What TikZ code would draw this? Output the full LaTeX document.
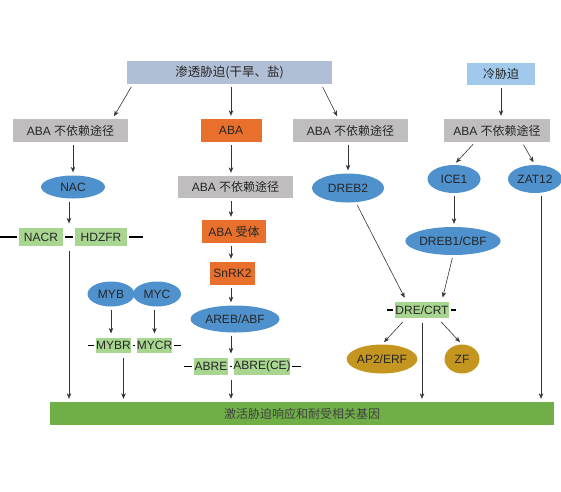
\documentclass[tikz,border=0pt]{standalone}
\usepackage{fontspec}
\setmainfont{Liberation Sans}
\newfontfamily\cjk{Noto Sans CJK SC}
\usepackage{xcolor}
\usetikzlibrary{calc,shapes.geometric,arrows.meta,backgrounds}

\definecolor{osmblue}{RGB}{177,191,214}
\definecolor{coldblue}{RGB}{160,201,235}
\definecolor{ablgray}{RGB}{191,189,189}
\definecolor{abaorange}{RGB}{232,112,44}
\definecolor{tfblue}{RGB}{78,145,205}
\definecolor{tfgold}{RGB}{196,150,32}
\definecolor{sitegreen}{RGB}{168,214,145}
\definecolor{bargreen}{RGB}{112,174,72}

\begin{document}
\begin{tikzpicture}[x=1pt,y=-1pt]
            \tikzstyle{every node}=[font=\fontsize{12}{14}\selectfont, text=black!85, inner sep=0pt]
            \tikzstyle{box}=[rectangle, minimum height=23pt]
            \tikzstyle{abl}=[box, fill=ablgray, minimum width=115pt]
            \tikzstyle{abaon}=[box, fill=abaorange]
            \tikzstyle{tf}=[ellipse, fill=tfblue]
            \tikzstyle{tfb}=[ellipse, fill=tfgold]
            \tikzstyle{site}=[rectangle, fill=sitegreen, draw=white, line width=1.2pt]
            \tikzstyle{arr}=[-{Stealth[length=5.5pt,width=4.5pt]}, draw=black!80, line width=0.6pt, shorten <=3pt, shorten >=3pt]
            \tikzstyle{dna}=[line width=1.2pt]
            \useasboundingbox (0,0) rectangle (561,491);
            % stresses
            \node[box, fill=osmblue, minimum width=205pt, font=\fontsize{12.5}{14}\selectfont] (osm) at (229.5,72.5) {\cjk 渗透胁迫(干旱、盐)};
            \node[box, fill=coldblue, minimum width=68pt, minimum height=22pt] (cold) at (501,74) {\cjk 冷胁迫};
            % pathways
            \node[abl] (abl1) at (70.5,130.5) {ABA {\cjk 不依赖途径}};
            \node[abaon, minimum width=61pt] (aba) at (231,130.5) {ABA};
            \node[abl] (abl3) at (350.5,130.5) {ABA {\cjk 不依赖途径}};
            \node[abl, minimum width=106pt] (abl4) at (497,130.5) {ABA {\cjk 不依赖途径}};
            \node[abl, minimum height=22pt] (abl2) at (235.5,187) {ABA {\cjk 不依赖途径}};
            \node[abaon, minimum width=64pt] (abarec) at (234,231.5) {ABA {\cjk 受体}};
            \node[abaon, minimum width=45pt] (snrk) at (232.5,273.5) {SnRK2};
            % transcription factors
            \node[tf, minimum width=64pt, minimum height=23pt] (nac) at (73,187) {NAC};
            \node[tf, minimum width=72pt, minimum height=29pt] (dreb2) at (348,188) {DREB2};
            \node[tf, minimum width=53pt, minimum height=28pt] (ice1) at (454,179) {ICE1};
            \node[tf, minimum width=54pt, minimum height=28pt] (zat) at (535,179) {ZAT12};
            \node[tf, minimum width=90pt, minimum height=28pt] (dreb1) at (453,241) {DREB1/CBF};
            \node[tf, minimum width=47pt, minimum height=25pt] (myb) at (111,294) {MYB};
            \node[tf, minimum width=48pt, minimum height=25pt] (myc) at (157,294) {MYC};
            \node[tf, minimum width=89pt, minimum height=27pt] (areb) at (235,319) {AREB/ABF};
            \node[tfb, minimum width=63pt, minimum height=29pt] (ap2) at (382,359) {AP2/ERF};
            \node[tfb, minimum width=35pt, minimum height=29pt] (zf) at (462,359) {ZF};
            % cis elements
            \node[site, minimum width=46pt, minimum height=20pt] (nacr) at (41,237) {NACR};
            \node[site, minimum width=54pt, minimum height=20pt] (hdzfr) at (101,237) {HDZFR};
            \node[site, minimum width=37pt, minimum height=17pt] (mybr) at (113.5,345.5) {MYBR};
            \node[site, minimum width=37pt, minimum height=17pt] (mycr) at (154.5,345.5) {MYCR};
            \node[site, minimum width=36pt, minimum height=19pt] (abre) at (211,366.5) {ABRE};
            \node[site, minimum width=58pt, minimum height=19pt] (abrece) at (262,366.5) {ABRE(CE)};
            \node[site, minimum width=56pt, minimum height=18pt] (dre) at (422,310) {DRE/CRT};
            % genes
            \node[box, fill=bargreen, minimum width=504pt, minimum height=23pt, text=black!75] (genes) at (302,413.5) {\cjk 激活胁迫响应和耐受相关基因};
            \coordinate (nacsite) at ($(nacr.east)!0.5!(hdzfr.west)$);
            \coordinate (abresite) at ($(abre.east)!0.5!(abrece.west)$);
            \begin{scope}[on background layer]
                \draw[dna] ([xshift=-17pt]nacr.west) -- ([xshift=14pt]hdzfr.east);
                \draw[dna] ([xshift=-6pt]mybr.west) -- ([xshift=7pt]mycr.east);
                \draw[dna] ([xshift=-8pt]abre.west) -- ([xshift=9pt]abrece.east);
                \draw[dna] ([xshift=-6pt]dre.west) -- ([xshift=5pt]dre.east);
            \end{scope}
            \draw[arr] ([xshift=6pt]osm.south west) -- ([xshift=42pt]abl1.north);
            \draw[arr] (osm.south -| aba.north) -- (aba.north);
            \draw[arr] ([xshift=-11pt]osm.south east) -- ([xshift=-12pt]abl3.north);
            \draw[arr] (cold.south) -- (cold.south |- abl4.north);
            \draw[arr] (abl1.south -| nac.north) -- (nac.north);
            \draw[arr] (aba.south) -- (aba.south |- abl2.north);
            \draw[arr] (abl2.south -| aba.south) -- (abarec.north -| aba.south);
            \draw[arr] (abarec.south -| aba.south) -- (snrk.north -| aba.south);
            \draw[arr] (snrk.south -| aba.south) -- (areb.north -| aba.south);
            \draw[arr] (abl3.south -| dreb2.north) -- (dreb2.north);
            \draw[arr] ([xshift=-22pt]abl4.south) -- (ice1.north);
            \draw[arr] ([xshift=25pt]abl4.south) -- (zat.north);
            \draw[arr] (ice1.south) -- (ice1.south |- dreb1.north);
            \draw[arr] (nac.south -| nacsite) -- (nacsite |- nacr.north);
            \draw[arr] (nacsite |- nacr.south) -- (nacsite |- genes.north);
            \draw[arr] (myb.south) -- (myb.south |- mybr.north);
            \draw[arr] (myc.south -| mycr.north) -- (mycr.north);
            \draw[arr] ([xshift=10pt]mybr.south) -- ([xshift=10pt]mybr.south |- genes.north);
            \draw[arr] (areb.south -| abresite) -- (abresite |- abre.north);
            \draw[arr] (abresite |- abre.south) -- (abresite |- genes.north);
            \draw[arr] ([xshift=8pt]dreb2.south) -- ([xshift=-16pt]dre.north);
            \draw[arr] (dreb1.south) -- ([xshift=20pt]dre.north);
            \draw[arr] ([xshift=-17pt]dre.south) -- (ap2.north);
            \draw[arr] ([xshift=17pt]dre.south) -- (zf.north);
            \draw[arr] (dre.south) -- (dre.south |- genes.north);
            \draw[arr] ([xshift=6pt]zat.south) -- ([xshift=6pt]zat.south |- genes.north);
        \end{tikzpicture}
\end{document}
